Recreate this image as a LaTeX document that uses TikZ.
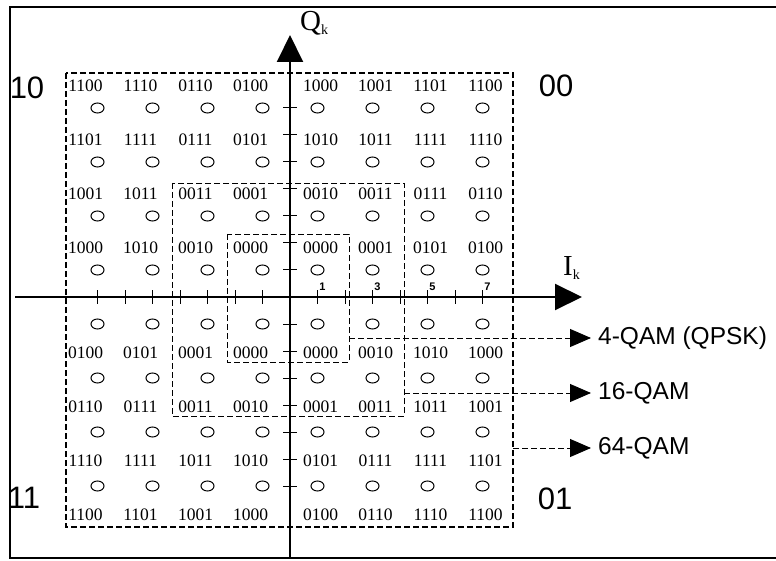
\documentclass[tikz,border=0pt]{standalone}
\usepackage{fontspec}
\setmainfont{Liberation Serif}
\setsansfont{Liberation Sans}
\usetikzlibrary{arrows.meta,positioning,shapes.geometric}

\begin{document}
\begin{tikzpicture}[x=1pt,y=-1pt,
            bits/.style={font=\fontsize{17.5}{17.5}\selectfont,inner sep=0pt},
            point/.style={draw,ellipse,minimum width=13pt,minimum height=10pt,inner sep=0pt,line width=1pt},
            quad/.style={font=\sffamily\fontsize{31}{31}\selectfont,inner sep=0pt},
            qam/.style={font=\sffamily\fontsize{24.5}{24.5}\selectfont,anchor=west,inner sep=0pt},
            axislab/.style={font=\fontsize{29}{29}\selectfont,inner sep=0pt,anchor=base west},
            ticklab/.style={font=\sffamily\bfseries\fontsize{11}{11}\selectfont,inner sep=0pt},
            box/.style={draw,dash pattern=on 6pt off 3pt,line width=.9pt},
            axis/.style={draw,line width=2pt,-{Triangle[length=27pt,width=26pt]}},
            pointer/.style={box,-{Triangle[length=21pt,width=18pt]},shorten >=7pt}
          ]
          \useasboundingbox (0,0) rectangle (776,561);
          %frame
          \draw[line width=2pt] (776,7) -- (10,7) -- (10,558) -- (776,558);

          %axes
          \coordinate (o) at (290,297);
          \coordinate (ytop) at (290,35);
          \coordinate (ybot) at (290,558);
          \coordinate (xleft) at (15,297);
          \coordinate (xright) at (582,297);
          \draw[line width=2pt] (o) -- (ybot);
          \path[axis] (o) -- (ytop);
          \path[axis] (xleft) -- (xright);
          \foreach \k in {-7,...,-1,1,2,...,7} {
            \draw[line width=1pt] (283,297+27*\k) -- (297,297+27*\k);
            \draw[line width=1pt] (290+27.5*\k,290) -- (290+27.5*\k,304);
          }
          \node[axislab] (qk) at (300,31) {Q\raisebox{-.25ex}{\fontsize{14}{14}\selectfont k}};
          \node[axislab] (ik) at (563,276) {I\raisebox{-.25ex}{\fontsize{14}{14}\selectfont k}};
          \foreach \n in {1,3,5,7}
            \node[ticklab] (t\n) at (290+27.5*\n+5,287) {\n};

          %constellation
          \foreach \r/\labs in {
              0/{1100,1110,0110,0100,1000,1001,1101,1100},
              1/{1101,1111,0111,0101,1010,1011,1111,1110},
              2/{1001,1011,0011,0001,0010,0011,0111,0110},
              3/{1000,1010,0010,0000,0000,0001,0101,0100},
              4/{0100,0101,0001,0000,0000,0010,1010,1000},
              5/{0110,0111,0011,0010,0001,0011,1011,1001},
              6/{1110,1111,1011,1010,0101,0111,1111,1101},
              7/{1100,1101,1001,1000,0100,0110,1110,1100}} {
            \foreach \b [count=\c from 0] in \labs {
              \pgfmathsetmacro\px{290+55*(\c-3.5)}
              \pgfmathsetmacro\py{297+54*(\r-3.5)}
              \pgfmathsetmacro\dx{ifthenelse(\c<4,-12,3)}
              \pgfmathsetmacro\dy{ifthenelse(\r<4,-22,29)}
              \node[point] (p\r\c) at (\px,\py) {};
              \node[bits] (b\r\c) at (\px+\dx,\py+\dy) {\b};
            }
          }

          %quadrants
          \node[quad] (q10) at (27,88) {10};
          \node[quad] (q00) at (556,86) {00};
          \node[quad] (q11) at (24,498) {11};
          \node[quad] (q01) at (555,499) {01};

          %qam regions
          \draw[box,line width=1.4pt] (66,73) rectangle (513,527);
          \draw[box] (172,183) rectangle (404,416);
          \draw[box] (227,234) rectangle (349,362);
          \coordinate (c4) at (349,338);
          \coordinate (c16) at (404,393);
          \coordinate (c64) at (513,448);
          \node[qam] (qam4) at (598,338) {4-QAM (QPSK)};
          \node[qam] (qam16) at (598,393) {16-QAM};
          \node[qam] (qam64) at (598,448) {64-QAM};
          \path[pointer] (c4) -- (qam4.west);
          \path[pointer] (c16) -- (qam16.west);
          \path[pointer] (c64) -- (qam64.west);
\end{tikzpicture}
\end{document}
